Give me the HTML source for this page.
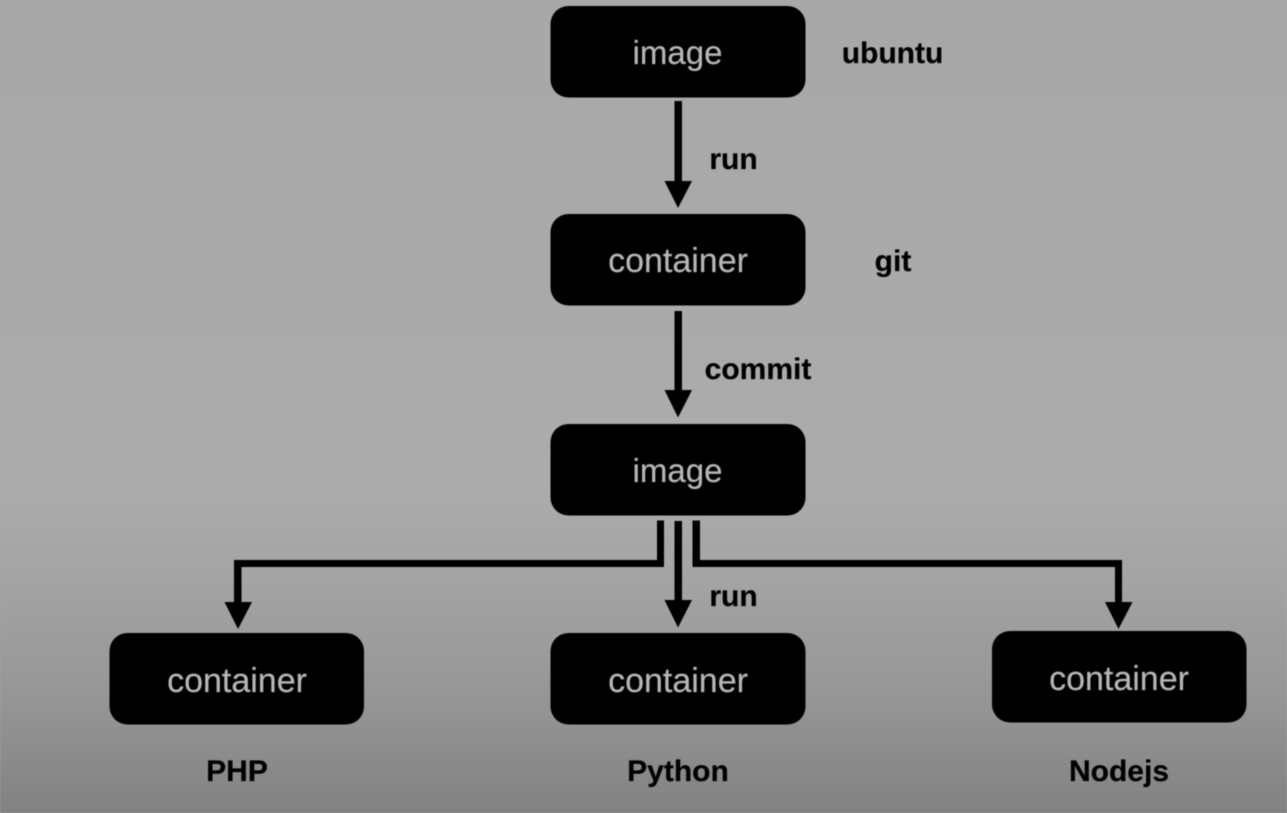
<!DOCTYPE html>
<html>
<head>
<meta charset="utf-8">
<style>
html,body{margin:0;padding:0;width:1287px;height:813px;overflow:hidden;background:#aaa}
svg{display:block;filter:blur(0.5px)}
.b{font:34px "Liberation Sans",sans-serif;fill:#b6b6b6;stroke:#b6b6b6;stroke-width:0.2px;text-anchor:middle}
.i{font-size:33px}
.l{font:bold 30px "Liberation Sans",sans-serif;fill:#000;stroke:#000;stroke-width:0.2px;text-anchor:middle}
</style>
</head>
<body>
<svg width="1287" height="813" viewBox="0 0 1287 813" xmlns="http://www.w3.org/2000/svg">
<defs>
<linearGradient id="bg" x1="0" y1="0" x2="0" y2="1">
<stop offset="0" stop-color="#a8a8a8"/>
<stop offset="0.6" stop-color="#acacac"/>
<stop offset="0.72" stop-color="#a3a3a3"/>
<stop offset="0.85" stop-color="#979797"/>
<stop offset="1" stop-color="#828282"/>
</linearGradient>
</defs>
<rect width="1287" height="813" fill="url(#bg)"/>

<rect x="550.5" y="6" width="255" height="91.500" rx="18" fill="#000"/>
<rect x="550.5" y="214" width="255" height="91.500" rx="18" fill="#000"/>
<rect x="550.5" y="424" width="255" height="91.500" rx="18" fill="#000"/>
<rect x="109.500" y="633" width="254.500" height="91.500" rx="18" fill="#000"/>
<rect x="550.5" y="633" width="255" height="91.500" rx="18" fill="#000"/>
<rect x="992" y="631" width="254.500" height="91.500" rx="18" fill="#000"/>

<text class="b i" x="677.500" y="64">image</text>
<text class="b" x="678" y="272">container</text>
<text class="b i" x="677.500" y="482">image</text>
<text class="b" x="237" y="692">container</text>
<text class="b" x="678" y="692">container</text>
<text class="b" x="1119" y="690">container</text>

<g fill="#000">
<rect x="674.500" y="101" width="7.500" height="82"/>
<polygon points="664.500,181 692,181 678,208"/>
<rect x="674.500" y="311" width="7.500" height="82"/>
<polygon points="664.500,390 692,390 678,417.500"/>
<rect x="674.500" y="521" width="7.500" height="81"/>
<polygon points="664.500,600 692,600 678,627.500"/>
<polygon points="657,520.500 664,520.500 664,567 241.500,567 241.500,604 234,604 234,560 657,560"/>
<polygon points="224.500,602 252,602 238,629"/>
<polygon points="692.500,520.500 700,520.500 700,560 1122,560 1122,604 1115,604 1115,567 692.500,567"/>
<polygon points="1105,602 1132.500,602 1118.500,629"/>
</g>

<text class="l" x="892.500" y="63">ubuntu</text>
<text class="l" x="733.500" y="169">run</text>
<text class="l" x="893" y="271">git</text>
<text class="l" x="758" y="379">commit</text>
<text class="l" x="733.500" y="606">run</text>
<text class="l" x="237" y="781">PHP</text>
<text class="l" x="678" y="781">Python</text>
<text class="l" x="1119" y="781">Nodejs</text>
</svg>
</body>
</html>
